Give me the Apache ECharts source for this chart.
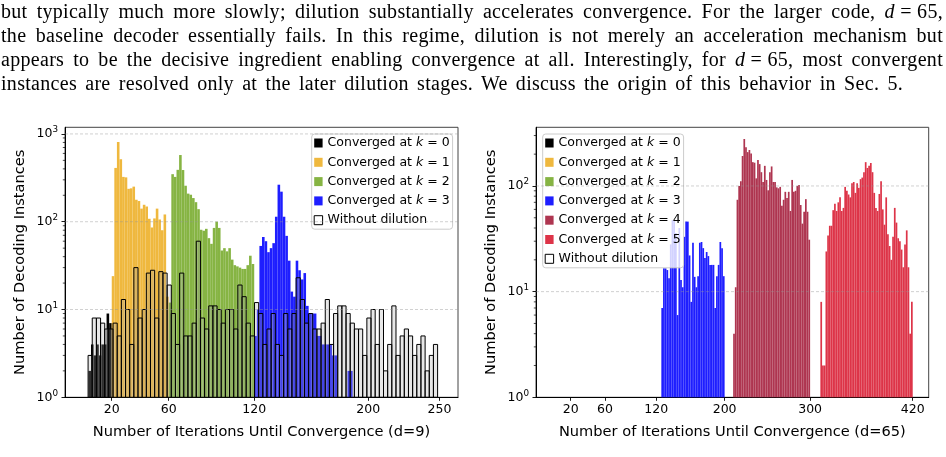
<!DOCTYPE html>
<html>
<head>
<meta charset="utf-8">
<script src="https://cdn.jsdelivr.net/npm/echarts@6/dist/echarts.min.js"></script>
<style>
html,body{margin:0;padding:0;background:#fff;}
#chart{position:absolute;left:0;top:0;width:946px;height:457px;}
.ln{position:absolute;left:1px;width:942px;font-family:"Liberation Serif",serif;font-size:20px;line-height:20px;letter-spacing:0.3px;color:#000;text-align:justify;text-align-last:justify;}
</style>
</head>
<body>
<div id="chart"></div>
<div class="ln" style="top:1px;">but typically much more slowly; dilution substantially accelerates convergence. For the larger code, <i>d</i>&#8197;=&#8197;65,</div>
<div class="ln" style="top:25px;">the baseline decoder essentially fails. In this regime, dilution is not merely an acceleration mechanism but</div>
<div class="ln" style="top:49px;">appears to be the decisive ingredient enabling convergence at all. Interestingly, for <i>d</i>&#8197;=&#8197;65, most convergent</div>
<div class="ln" style="top:73px;width:902px;">instances are resolved only at the later dilution stages. We discuss the origin of this behavior in Sec. 5.</div>
<script>
const FONT = 'DejaVu Sans';

// ---------- d = 9 ----------
const d9Ticks = [20, 60, 120, 200, 250];
const d9YTicks = [1, 10, 100, 1000];
const d9YGrid = [10, 100, 1000];
const d9Minor = [2,3,4,5,6,7,8,9,20,30,40,50,60,70,80,90,200,300,400,500,600,700,800,900];
const d9BinWidth = 1.818;
const d9K0Start = 3.64;
const d9K0 = [2, 4, 3, 4, 3, 4, 4, 9, 7];
const d9K1Start = 20;
const d9K1 = [24, 410, 810, 515, 324, 320, 237, 240, 251, 178, 172, 141, 156, 149, 108, 86, 109, 141, 106, 80, 121, 14];
const d9K2Start = 60;
const d9K2 = [12, 348, 324, 390, 575, 388, 257, 209, 203, 186, 167, 139, 81, 79, 83, 65, 56, 85, 100, 85, 47, 50, 46, 50, 37, 32, 31, 30, 29, 29, 32, 41, 33];
const d9K3Start = 120;
const d9K3 = [5, 10, 53, 67, 60, 45, 50, 57, 114, 264, 220, 114, 69, 36, 16, 14, 36, 28, 22, 26, 11, 9, 9, 9, 5, 5, 4, 4, 4, 4, 3, 3, 0, 0, 0, 0, 2, 2];
const d9BaseStart = 3.4;
const d9BaseWidth = 2.92;
const d9Base = [3, 8, 8, 7, 6, 6, 7, 5, 13, 10, 4, 30, 8, 10, 26, 28, 8, 27, 26, 19,
  9, 4, 26, 5, 5, 7, 60, 8, 6, 11, 11, 10, 7, 10,
  10, 6, 19, 14, 7, 5, 12, 9, 4, 6, 9, 4, 3, 9, 6, 9, 23, 13, 7, 9,
  6, 6, 7, 13, 4, 9, 11, 11, 9, 7, 6, 6, 3, 8, 10, 4, 10, 2, 4, 11,
  3, 5, 6, 5, 3, 4, 5, 2, 3, 4];

// ---------- d = 65 ----------
const d65Ticks = [20, 60, 120, 200, 300, 420];
const d65YTicks = [1, 10, 100];
const d65YGrid = [10, 100];
const d65Minor = [2,3,4,5,6,7,8,9,20,30,40,50,60,70,80,90,200,300];
const d65BinWidth = 2;
const d65K3Start = 126;
const d65K3 = [7, 16.6, 16.6, 16, 13.4, 28, 47.6, 47, 35.8, 6, 40, 12.9, 11, 33, 46, 46, 22, 8, 29, 13.8, 11, 14, 29, 29.5, 25.8, 20.8, 23.7, 21.7, 17.9, 17.9, 17.9, 7, 14, 17.9, 29.5, 25.8, 14];
const d65K4Start = 210;
const d65K4 = [4, 11, 74, 100, 111, 192, 278, 232, 209, 219, 203, 168, 166, 118, 176, 161, 135, 109, 155, 114,
  91, 135, 153, 109, 109, 97, 95, 98, 65, 74, 88, 77, 88, 58, 114, 88, 90, 100, 102, 66, 44, 57, 75, 57, 31];
const d65K5Start = 312;
const d65K5 = [8, 2, 2, 24, 34, 42, 42, 59, 68, 58, 70, 78, 58, 62, 98, 90, 83, 78, 106, 109, 86, 106, 96, 116, 120,
  135, 168, 148, 155, 165, 135, 86, 62, 58, 84, 111, 60, 43, 78, 35, 27, 20, 33, 62, 45, 32, 30, 25, 17, 28, 38, 17, 4, 8];

const NAMES = ['Converged at k = 0','Converged at k = 1','Converged at k = 2','Converged at k = 3','Converged at k = 4','Converged at k = 5'];
const BASE = 'Without dilution';
const COLORS = ['#000000', '#EFB83E', '#86B443', '#1E1EFF', '#AE3550', '#DD3448'];

function bins(start, width, values) {
  const out = [];
  values.forEach((v, i) => { if (v > 0) out.push([start + i * width, start + (i + 1) * width, v]); });
  return out;
}

function barSeries(name, idx, data, color, outline) {
  return {
    type: 'custom', name: name, xAxisIndex: idx, yAxisIndex: idx,
    data: data, encode: { x: [0, 1], y: 2 },
    itemStyle: { color: color },
    z: outline ? 3 : 2,
    renderItem: function (params, api) {
      const a = api.coord([api.value(0), api.value(2)]);
      const b = api.coord([api.value(1), 1]);
      return {
        type: 'rect',
        shape: { x: a[0], y: a[1], width: b[0] - a[0], height: b[1] - a[1] },
        style: outline ? { fill: 'rgba(170,170,170,0.28)', stroke: '#000', lineWidth: 1 }
                       : { fill: color }
      };
    }
  };
}

function decoSeries(idx, gridVals, minorVals) {
  const data = gridVals.map(v => [0, v, 1]).concat(minorVals.map(v => [0, v, 0]));
  return {
    type: 'custom', xAxisIndex: idx, yAxisIndex: idx, silent: true, z: 4,
    data: data, encode: { x: 0, y: 1 },
    renderItem: function (params, api) {
      const cs = params.coordSys;
      const y = api.coord([0, api.value(1)])[1];
      if (api.value(2) === 1) {
        return { type: 'line', shape: { x1: cs.x, y1: y, x2: cs.x + cs.width, y2: y },
          style: { stroke: 'rgba(150,150,150,0.55)', lineWidth: 0.8, lineDash: [3, 2] } };
      }
      return { type: 'line', shape: { x1: cs.x - 2.2, y1: y, x2: cs.x, y2: y },
        style: { stroke: '#000', lineWidth: 0.7 } };
    }
  };
}

const logLabel = {
  color: '#000', margin: 7,
  formatter: function (v) { return '{b|10}{s|' + Math.round(Math.log10(v)) + '}'; },
  rich: {
    b: { fontFamily: FONT, fontSize: 12.5, color: '#000', verticalAlign: 'bottom', lineHeight: 13 },
    s: { fontFamily: FONT, fontSize: 8.8, color: '#000', verticalAlign: 'bottom', lineHeight: 10, padding: [0, 0, 6, 0] }
  }
};

function xAxisCfg(idx, min, max, ticks, title) {
  return {
    type: 'value', gridIndex: idx, min: min, max: max,
    axisLine: { show: true, onZero: false, lineStyle: { color: '#000', width: 1 } },
    axisTick: { show: true, customValues: ticks, length: 3.5, lineStyle: { color: '#000', width: 0.9 } },
    axisLabel: { customValues: ticks, fontFamily: FONT, fontSize: 12.5, color: '#000', margin: 6 },
    splitLine: { show: false },
    name: title, nameLocation: 'middle', nameGap: 27,
    nameTextStyle: { fontFamily: FONT, fontSize: 14.6, color: '#000' }
  };
}
function yAxisCfg(idx, max, ticks, gap) {
  return {
    type: 'log', logBase: 10, gridIndex: idx, min: 1, max: max,
    axisLine: { show: true, onZero: false, lineStyle: { color: '#000', width: 1 } },
    axisTick: { show: true, customValues: ticks, length: 3.5, lineStyle: { color: '#000', width: 0.9 } },
    axisLabel: Object.assign({ customValues: ticks }, logLabel),
    splitLine: { show: false }, minorTick: { show: false },
    name: 'Number of Decoding Instances', nameLocation: 'middle', nameGap: gap,
    nameTextStyle: { fontFamily: FONT, fontSize: 14.6, color: '#000' }
  };
}

const legendText = {
  fontFamily: FONT, fontSize: 12.5, color: '#000', lineHeight: 14,
  rich: { i: { fontFamily: FONT, fontSize: 12.5, fontStyle: 'italic', color: '#000', lineHeight: 14 } }
};
function legendCfg(left, names) {
  return {
    orient: 'vertical', left: left, top: 134,
    icon: 'rect', itemWidth: 8.4, itemHeight: 9, itemGap: 5.3,
    padding: [2, 3, 2, 2],
    backgroundColor: 'rgba(255,255,255,0.8)', borderColor: '#cccccc', borderWidth: 1, borderRadius: 3,
    textStyle: legendText,
    formatter: function (n) { return n.replace(' k ', ' {i|k} '); },
    data: names.map(n => n === BASE
      ? { name: n, itemStyle: { color: '#ffffff', borderColor: '#000', borderWidth: 1 } }
      : { name: n }),
    selectedMode: false
  };
}

const series = [
  barSeries(NAMES[0], 0, bins(d9K0Start, d9BinWidth, d9K0), COLORS[0]),
  barSeries(NAMES[1], 0, bins(d9K1Start, d9BinWidth, d9K1), COLORS[1]),
  barSeries(NAMES[2], 0, bins(d9K2Start, d9BinWidth, d9K2), COLORS[2]),
  barSeries(NAMES[3], 0, bins(d9K3Start, d9BinWidth, d9K3), COLORS[3]),
  barSeries(BASE, 0, bins(d9BaseStart, d9BaseWidth, d9Base), '#ffffff', true),
  barSeries(NAMES[3], 1, bins(d65K3Start, d65BinWidth, d65K3), COLORS[3]),
  barSeries(NAMES[4], 1, bins(d65K4Start, d65BinWidth, d65K4), COLORS[4]),
  barSeries(NAMES[5], 1, bins(d65K5Start, d65BinWidth, d65K5), COLORS[5]),
  decoSeries(0, d9YGrid, d9Minor),
  decoSeries(1, d65YGrid, d65Minor)
];

const chart = echarts.init(document.getElementById('chart'), null, { renderer: 'canvas' });
chart.setOption({
  animation: false,
  backgroundColor: '#ffffff',
  textStyle: { fontFamily: FONT },
  grid: [
    { left: 65, top: 127.3, width: 393, height: 270, show: true, borderColor: '#444', borderWidth: 1, backgroundColor: 'transparent' },
    { left: 536, top: 127.3, width: 392.7, height: 270, show: true, borderColor: '#444', borderWidth: 1, backgroundColor: 'transparent' }
  ],
  xAxis: [
    xAxisCfg(0, -12.8, 263, d9Ticks, 'Number of Iterations Until Convergence (d=9)'),
    xAxisCfg(1, -20.6, 438.7, d65Ticks, 'Number of Iterations Until Convergence (d=65)')
  ],
  yAxis: [
    yAxisCfg(0, 1190, d9YTicks, 37),
    yAxisCfg(1, 359, d65YTicks, 37)
  ],
  legend: [
    legendCfg(311.7, NAMES.slice(0, 4).concat([BASE])),
    legendCfg(542.7, NAMES.concat([BASE]))
  ],
  series: series
});
</script>
</body>
</html>
